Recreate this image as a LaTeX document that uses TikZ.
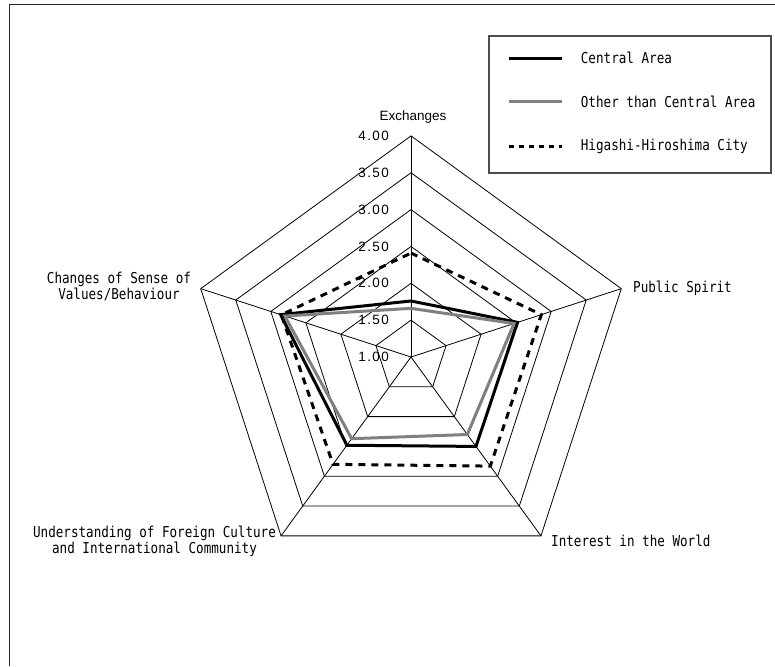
\documentclass[tikz,border=0pt]{standalone}
\usepackage{fontspec}
\setmainfont{Liberation Sans}
\newfontfamily\labelfont[FakeStretch=0.84]{DejaVu Sans Mono}
\newfontfamily\tickfont[LetterSpace=10]{Liberation Sans}
% one closed radar polygon: style, then values for the five axes
\newcommand\radarline[6]{%
  \draw[#1] (90:{(#2-1)*73.7}) -- (18:{(#3-1)*73.7}) -- (-54:{(#4-1)*73.7})
    -- (-126:{(#5-1)*73.7}) -- (162:{(#6-1)*73.7}) -- cycle;}
\begin{document}
\begin{tikzpicture}[x=1pt,y=1pt,
  gridline/.style={line width=0.8pt, black},
  central/.style={line width=3pt, black, line join=miter},
  other/.style={line width=3pt, color=black!50, line join=miter},
  city/.style={line width=3pt, black, dash pattern=on 7pt off 6pt},
  lab/.style={font=\labelfont\fontsize{15}{16}\selectfont, inner sep=0pt},
  ticklab/.style={font=\tickfont\fontsize{13.5}{15}\selectfont, inner sep=0pt, anchor=east},
]
\useasboundingbox (0,0) rectangle (775,666);
\fill[white] (0,0) rectangle (775,666);
% page frame (top and left edges)
\draw[line width=1.5pt, black!85] (9.5,0) -- (9.5,661.3) -- (775,661.3);

\begin{scope}[shift={(411,309)}]
  % rings at 1.50 ... 4.00
  \foreach \v in {1.5,2.0,2.5,3.0,3.5,4.0} {
    \pgfmathsetmacro\r{(\v-1)*73.7}
    \draw[gridline] (90:\r) -- (18:\r) -- (-54:\r) -- (-126:\r) -- (162:\r) -- cycle;
  }
  % spokes
  \foreach \a in {90,18,-54,-126,162}
    \draw[gridline] (0,0) -- (\a:221.1);
  % scale labels
  \foreach \v/\t in {1/1.00,1.5/1.50,2/2.00,2.5/2.50,3/3.00,3.5/3.50,4/4.00}
    \node[ticklab] at (-22,{(\v-1)*73.7}) {\t};
  % data series
  \radarline{central}{1.76}{2.52}{2.50}{2.48}{2.86}
  \radarline{other}{1.66}{2.47}{2.30}{2.37}{2.80}
  \radarline{city}{2.41}{2.86}{2.83}{2.80}{2.85}
\end{scope}

% axis names
\node (ex) [font=\fontsize{13.5}{16}\selectfont, inner sep=0pt] at (413,549) {Exchanges};
\node (ps) [lab, anchor=west] at (633,378) {Public Spirit};
\node (iw) [lab, anchor=west] at (551,125) {Interest in the World};
\node (cv) [lab, align=center] at (119,379) {Changes of Sense of\\Values/Behaviour};
\node (uf) [lab, align=center] at (154.5,124.5) {Understanding of Foreign Culture\\and International Community};

% legend
\draw[line width=1.2pt, black!70] (489,493) rectangle (771,630);
\coordinate (la1) at (509,607.7); \coordinate (lb1) at (562,607.7);
\coordinate (la2) at (509,564.3); \coordinate (lb2) at (562,564.3);
\coordinate (la3) at (509,519.3); \coordinate (lb3) at (562,519.3);
\draw[central] (la1) -- (lb1);
\draw[other] (la2) -- (lb2);
\draw[city, dash pattern=on 5pt off 5pt] (la3) -- (lb3);
\node (t1) [lab, anchor=west] at (580.7,607.7) {Central Area};
\node (t2) [lab, anchor=west] at (580.7,564.3) {Other than Central Area};
\node (t3) [lab, anchor=west] at (580.7,519.3) {Higashi-Hiroshima City};
\end{tikzpicture}
\end{document}
